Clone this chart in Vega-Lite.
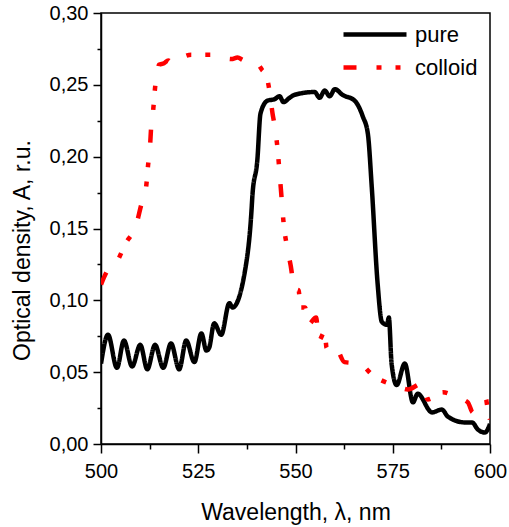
{
  "$schema": "https://vega.github.io/schema/vega-lite/v6.json",
  "autosize": {"type": "none"},
  "padding": {"left": 101, "top": 13, "right": 19, "bottom": 83},
  "width": 389,
  "height": 431,
  "background": "white",
  "config": {
    "font": "Liberation Sans",
    "view": {"stroke": "black", "strokeWidth": 1.5},
    "axis": {"domainColor": "black", "domainWidth": 1.5, "tickColor": "black", "tickWidth": 1.5, "grid": false, "labelColor": "black", "titleColor": "black", "labelFont": "Liberation Sans", "titleFont": "Liberation Sans", "labelFontSize": 20, "titleFontSize": 23, "titleFontWeight": "normal"}
  },
  "data": {"values": [
    {"wl": 500.0, "od": 0.056, "s": "pure"},
    {"wl": 501.8, "od": 0.076, "s": "pure"},
    {"wl": 504.1, "od": 0.053, "s": "pure"},
    {"wl": 505.9, "od": 0.072, "s": "pure"},
    {"wl": 508.0, "od": 0.054, "s": "pure"},
    {"wl": 510.1, "od": 0.069, "s": "pure"},
    {"wl": 511.9, "od": 0.052, "s": "pure"},
    {"wl": 513.9, "od": 0.069, "s": "pure"},
    {"wl": 516.0, "od": 0.053, "s": "pure"},
    {"wl": 518.0, "od": 0.070, "s": "pure"},
    {"wl": 520.1, "od": 0.052, "s": "pure"},
    {"wl": 521.9, "od": 0.072, "s": "pure"},
    {"wl": 524.0, "od": 0.057, "s": "pure"},
    {"wl": 525.8, "od": 0.077, "s": "pure"},
    {"wl": 527.1, "od": 0.065, "s": "pure"},
    {"wl": 527.8, "od": 0.067, "s": "pure"},
    {"wl": 529.1, "od": 0.084, "s": "pure"},
    {"wl": 530.9, "od": 0.076, "s": "pure"},
    {"wl": 533.0, "od": 0.098, "s": "pure"},
    {"wl": 533.8, "od": 0.095, "s": "pure"},
    {"wl": 537.4, "od": 0.127, "s": "pure"},
    {"wl": 538.7, "od": 0.163, "s": "pure"},
    {"wl": 538.9, "od": 0.172, "s": "pure"},
    {"wl": 540.2, "od": 0.198, "s": "pure"},
    {"wl": 541.0, "od": 0.230, "s": "pure"},
    {"wl": 542.8, "od": 0.239, "s": "pure"},
    {"wl": 544.6, "od": 0.240, "s": "pure"},
    {"wl": 545.9, "od": 0.242, "s": "pure"},
    {"wl": 546.9, "od": 0.238, "s": "pure"},
    {"wl": 548.5, "od": 0.241, "s": "pure"},
    {"wl": 549.7, "od": 0.243, "s": "pure"},
    {"wl": 554.9, "od": 0.245, "s": "pure"},
    {"wl": 556.2, "od": 0.241, "s": "pure"},
    {"wl": 557.5, "od": 0.246, "s": "pure"},
    {"wl": 558.8, "od": 0.242, "s": "pure"},
    {"wl": 560.1, "od": 0.247, "s": "pure"},
    {"wl": 562.1, "od": 0.243, "s": "pure"},
    {"wl": 565.2, "od": 0.239, "s": "pure"},
    {"wl": 567.3, "od": 0.228, "s": "pure"},
    {"wl": 568.6, "od": 0.216, "s": "pure"},
    {"wl": 569.6, "od": 0.179, "s": "pure"},
    {"wl": 571.1, "od": 0.112, "s": "pure"},
    {"wl": 572.2, "od": 0.085, "s": "pure"},
    {"wl": 573.5, "od": 0.083, "s": "pure"},
    {"wl": 574.0, "od": 0.088, "s": "pure"},
    {"wl": 574.7, "od": 0.056, "s": "pure"},
    {"wl": 576.0, "od": 0.041, "s": "pure"},
    {"wl": 578.1, "od": 0.056, "s": "pure"},
    {"wl": 580.2, "od": 0.029, "s": "pure"},
    {"wl": 581.4, "od": 0.035, "s": "pure"},
    {"wl": 585.1, "od": 0.022, "s": "pure"},
    {"wl": 587.6, "od": 0.024, "s": "pure"},
    {"wl": 589.2, "od": 0.019, "s": "pure"},
    {"wl": 593.6, "od": 0.015, "s": "pure"},
    {"wl": 595.4, "od": 0.015, "s": "pure"},
    {"wl": 596.9, "od": 0.010, "s": "pure"},
    {"wl": 598.7, "od": 0.008, "s": "pure"},
    {"wl": 600.0, "od": 0.014, "s": "pure"},
    {"wl": 500.0, "od": 0.111, "s": "colloid"},
    {"wl": 501.5, "od": 0.120, "s": "colloid"},
    {"wl": 504.1, "od": 0.127, "s": "colloid"},
    {"wl": 506.4, "od": 0.140, "s": "colloid"},
    {"wl": 509.0, "od": 0.152, "s": "colloid"},
    {"wl": 510.3, "od": 0.166, "s": "colloid"},
    {"wl": 511.6, "od": 0.179, "s": "colloid"},
    {"wl": 512.1, "od": 0.194, "s": "colloid"},
    {"wl": 512.6, "od": 0.207, "s": "colloid"},
    {"wl": 512.9, "od": 0.221, "s": "colloid"},
    {"wl": 513.4, "od": 0.232, "s": "colloid"},
    {"wl": 513.9, "od": 0.248, "s": "colloid"},
    {"wl": 514.7, "od": 0.262, "s": "colloid"},
    {"wl": 514.9, "od": 0.264, "s": "colloid"},
    {"wl": 516.2, "od": 0.265, "s": "colloid"},
    {"wl": 517.3, "od": 0.267, "s": "colloid"},
    {"wl": 518.3, "od": 0.265, "s": "colloid"},
    {"wl": 520.1, "od": 0.268, "s": "colloid"},
    {"wl": 523.2, "od": 0.271, "s": "colloid"},
    {"wl": 528.4, "od": 0.271, "s": "colloid"},
    {"wl": 533.5, "od": 0.268, "s": "colloid"},
    {"wl": 535.1, "od": 0.269, "s": "colloid"},
    {"wl": 536.9, "od": 0.267, "s": "colloid"},
    {"wl": 538.1, "od": 0.267, "s": "colloid"},
    {"wl": 540.2, "od": 0.265, "s": "colloid"},
    {"wl": 541.5, "od": 0.260, "s": "colloid"},
    {"wl": 542.3, "od": 0.258, "s": "colloid"},
    {"wl": 543.3, "od": 0.246, "s": "colloid"},
    {"wl": 544.1, "od": 0.230, "s": "colloid"},
    {"wl": 544.8, "od": 0.219, "s": "colloid"},
    {"wl": 545.4, "od": 0.205, "s": "colloid"},
    {"wl": 545.9, "od": 0.189, "s": "colloid"},
    {"wl": 546.4, "od": 0.172, "s": "colloid"},
    {"wl": 546.9, "od": 0.155, "s": "colloid"},
    {"wl": 547.9, "od": 0.136, "s": "colloid"},
    {"wl": 549.0, "od": 0.120, "s": "colloid"},
    {"wl": 549.5, "od": 0.108, "s": "colloid"},
    {"wl": 550.8, "od": 0.107, "s": "colloid"},
    {"wl": 551.3, "od": 0.095, "s": "colloid"},
    {"wl": 552.5, "od": 0.095, "s": "colloid"},
    {"wl": 553.2, "od": 0.083, "s": "colloid"},
    {"wl": 555.3, "od": 0.088, "s": "colloid"},
    {"wl": 556.0, "od": 0.072, "s": "colloid"},
    {"wl": 557.5, "od": 0.078, "s": "colloid"},
    {"wl": 558.0, "od": 0.067, "s": "colloid"},
    {"wl": 560.0, "od": 0.069, "s": "colloid"},
    {"wl": 562.6, "od": 0.057, "s": "colloid"},
    {"wl": 566.5, "od": 0.056, "s": "colloid"},
    {"wl": 569.8, "od": 0.048, "s": "colloid"},
    {"wl": 574.2, "od": 0.042, "s": "colloid"},
    {"wl": 575.5, "od": 0.041, "s": "colloid"},
    {"wl": 578.9, "od": 0.038, "s": "colloid"},
    {"wl": 582.5, "od": 0.042, "s": "colloid"},
    {"wl": 584.0, "od": 0.031, "s": "colloid"},
    {"wl": 587.9, "od": 0.036, "s": "colloid"},
    {"wl": 591.8, "od": 0.032, "s": "colloid"},
    {"wl": 594.3, "od": 0.029, "s": "colloid"},
    {"wl": 595.6, "od": 0.022, "s": "colloid"},
    {"wl": 596.6, "od": 0.025, "s": "colloid"},
    {"wl": 599.0, "od": 0.031, "s": "colloid"},
    {"wl": 599.2, "od": 0.028, "s": "colloid"},
    {"wl": 600.0, "od": 0.017, "s": "colloid"}
  ]},
  "mark": {"type": "line", "strokeWidth": 4.5, "clip": true, "strokeJoin": "round", "interpolate": "monotone"},
  "encoding": {
    "x": {
      "field": "wl", "type": "quantitative",
      "scale": {"domain": [500, 600], "nice": false, "zero": false},
      "axis": {
        "title": "Wavelength, λ, nm",
        "values": [500, 512.5, 525, 537.5, 550, 562.5, 575, 587.5, 600],
        "labelExpr": "datum.value % 25 === 0 ? format(datum.value, 'd') : ''",
        "tickSize": {"condition": {"test": "datum.value % 25 === 0", "value": 9}, "value": 5},
        "labelPadding": 8,
        "titlePadding": 20,
        "labelFlush": false,
        "labelOverlap": false
      }
    },
    "y": {
      "field": "od", "type": "quantitative",
      "scale": {"domain": [0, 0.3], "nice": false},
      "axis": {
        "title": "Optical density,  A, r.u.",
        "values": [0, 0.025, 0.05, 0.075, 0.1, 0.125, 0.15, 0.175, 0.2, 0.225, 0.25, 0.275, 0.3],
        "labelExpr": "round(datum.value * 1000) % 50 === 0 ? replace(format(datum.value, '.2f'), '.', ',') : ''",
        "tickSize": {"condition": {"test": "round(datum.value * 1000) % 50 === 0", "value": 8}, "value": 4},
        "labelPadding": 5,
        "labelFlush": false,
        "labelOverlap": false,
        "titleX": -67,
        "titleY": 237
      }
    },
    "color": {
      "field": "s", "type": "nominal",
      "scale": {"domain": ["pure", "colloid"], "range": ["black", "#ff0000"]},
      "legend": {
        "title": null, "orient": "none", "legendX": 240, "legendY": 5,
        "symbolType": "stroke", "symbolSize": 3969, "symbolStrokeWidth": 4.5,
        "labelFontSize": 22, "labelFont": "Liberation Sans", "labelColor": "black",
        "labelOffset": 6, "rowPadding": 0, "clipHeight": 33, "padding": 0, "symbolOffset": 0
      }
    },
    "strokeDash": {
      "field": "s", "type": "nominal",
      "scale": {"domain": ["pure", "colloid"], "range": [[1, 0], [13, 20, 5, 14, 5, 20]]},
      "legend": {
        "title": null, "orient": "none", "legendX": 240, "legendY": 5,
        "symbolType": "stroke", "symbolSize": 3969, "symbolStrokeWidth": 4.5,
        "labelFontSize": 22, "labelFont": "Liberation Sans", "labelColor": "black",
        "labelOffset": 6, "rowPadding": 0, "clipHeight": 33, "padding": 0, "symbolOffset": 0
      }
    }
  }
}
